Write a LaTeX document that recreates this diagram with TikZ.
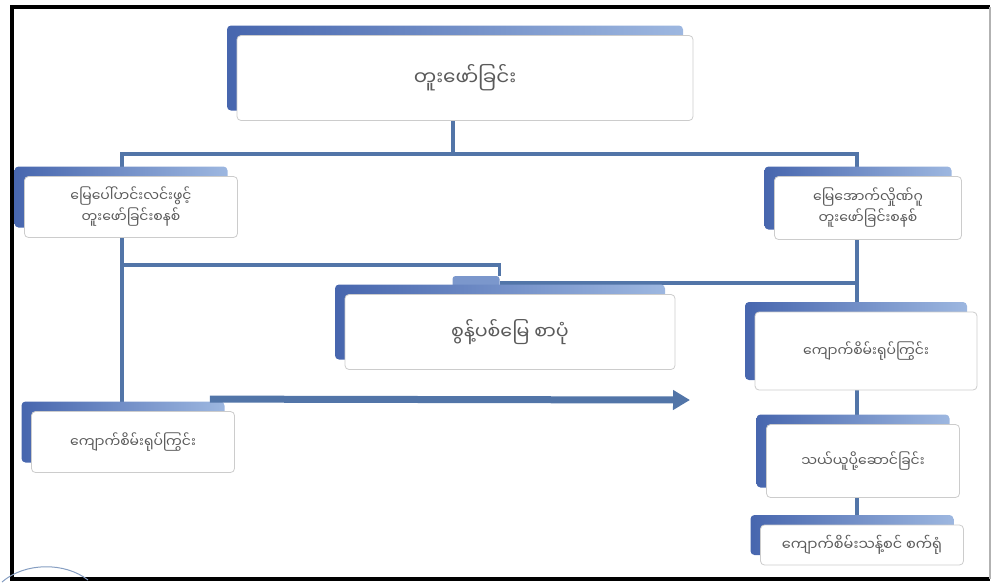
\documentclass[tikz,border=0pt]{standalone}
\usepackage{fontspec}
\usepackage{tikz}
\usetikzlibrary{shadows,arrows.meta,backgrounds}
\newfontfamily\mmfont[Script=Myanmar]{Noto Sans Myanmar UI}
\definecolor{linkblue}{HTML}{5275A8}
\definecolor{backdark}{HTML}{4766AE}
\definecolor{backlight}{HTML}{9DB7E0}
\definecolor{textgray}{HTML}{5A5A5A}

\begin{document}
\begin{tikzpicture}[x=1pt,y=-1pt,
	panel/.style={draw=gray!40, line width=0.8pt, fill=white, rounded corners=4pt, inner sep=2pt,
		align=center, text=textgray, font=\mmfont\fontsize{14}{21}\selectfont,
		general shadow={left color=backdark, right color=backlight, shadow xshift=-10pt, shadow yshift=10pt}},
	link/.style={draw=linkblue, line width=3.2pt}]
		\useasboundingbox (0,0) rectangle (992,582);
		\draw[black, line width=3.5pt] (990,7) -- (12,7) -- (12,579) -- (990,579);
		\draw[gray!60, line width=1.5pt] (990,7) -- (990,579);
		\draw[linkblue!70, line width=1pt] (2,582) .. controls (25,562) and (65,562) .. (88,580);

		\node[panel, minimum width=456pt, minimum height=85pt, font=\mmfont\fontsize{20}{24}\selectfont] (dig) at (465,78) {တူးဖော်ခြင်း};
		\node[panel, minimum width=213pt, minimum height=61pt] (lsys) at (131,207) {မြေပေါ်ဟင်းလင်းဖွင့်\\တူးဖော်ခြင်းစနစ်};
		\node[panel, minimum width=187pt, minimum height=63pt] (rsys) at (868,208) {မြေအောက်လှိုဏ်ဂူ\\တူးဖော်ခြင်းစနစ်};
		\node[fill=backlight!60!backdark, rounded corners=3pt, minimum width=47pt, minimum height=14pt, inner sep=0pt] (tab) at (476,283) {};
		\node[panel, minimum width=330pt, minimum height=75pt, font=\mmfont\fontsize{19}{23}\selectfont] (waste) at (510,332) {စွန့်ပစ်မြေ စာပုံ};
		\node[panel, minimum width=222pt, minimum height=78pt] (rjade) at (866,351) {ကျောက်စိမ်းရုပ်ကြွင်း};
		\node[panel, minimum width=203pt, minimum height=61pt] (ljade) at (133,442) {ကျောက်စိမ်းရုပ်ကြွင်း};
		\node[panel, minimum width=193pt, minimum height=73pt] (carry) at (863,461) {သယ်ယူပို့ဆောင်ခြင်း};
		\node[panel, minimum width=203pt, minimum height=40pt, font=\mmfont\fontsize{14.5}{18}\selectfont] (plant) at (862,545) {ကျောက်စိမ်းသန့်စင် စက်ရုံ};

		\coordinate (lbend) at (122,265);
		\coordinate (rbend) at (857,283);
		\coordinate (arrowend) at (690,400);

		\begin{scope}[on background layer]
		\draw[link] ([xshift=-12pt]dig.south) -- ++(0,33) -| ([xshift=-9pt]lsys.north);
		\draw[link] ([xshift=-12pt]dig.south) -- ++(0,33) -| ([xshift=-11pt]rsys.north);
		\draw[link] ([xshift=-9pt]lsys.south) -- ([xshift=-9pt]lsys.south |- ljade.north);
		\draw[link] (lbend) -| (tab.north east);
		\draw[link] (tab.east) -- (rbend);
		\draw[link] ([xshift=-11pt]rsys.south) -- ([xshift=-11pt]rsys.south |- rjade.north);
		\draw[link] ([xshift=-9pt]rjade.south) -- ([xshift=-9pt]rjade.south |- carry.north);
		\draw[link] ([xshift=-6pt]carry.south) -- ([xshift=-6pt]carry.south |- plant.north);
		\end{scope}
		\draw[link, line width=7pt, -{Triangle[length=17pt,width=19pt]}] ([xshift=-25pt,yshift=12pt]ljade.north east) -- (arrowend);
	\end{tikzpicture}
\end{document}
